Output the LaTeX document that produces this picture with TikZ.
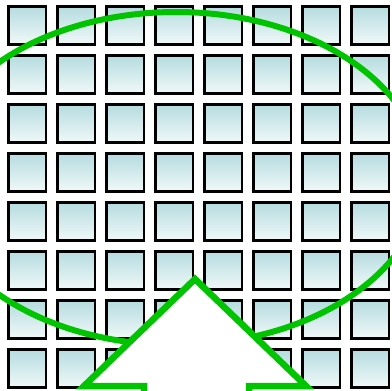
\documentclass[tikz,border=0pt]{standalone}
\usepackage{xcolor}
\definecolor{tealtop}{HTML}{B6DCE0}
\definecolor{tealbot}{HTML}{F0F8F8}
\definecolor{lime}{HTML}{00C400}
\usetikzlibrary{positioning}
\tikzset{
  cell/.style={draw=black,line width=2.6pt,minimum size=37.6pt,inner sep=0pt,
    top color=tealtop,bottom color=tealbot},
  ring/.style={draw=lime,line width=6pt},
  uparrow/.style={draw=lime,fill=white,line width=6.5pt,line join=miter},
}

\begin{document}
\begin{tikzpicture}[x=1pt,y=-1pt]
  \useasboundingbox (0,0) rectangle (392,391);
  \fill[white] (0,0) rectangle (392,391);
  \clip (0,0) rectangle (392,391);
  % grid of cells
  \foreach \i in {0,...,7}{
    \foreach \j in {0,...,7}{
      \node[cell] (c\i\j) at (27+49*\i,25.5+49*\j) {};
    }
  }
  % ellipse
  \coordinate (mid) at (176,178.5);
  \draw[ring] (mid) ellipse [x radius=247pt,y radius=166.5pt];
  % arrow
  \coordinate (tip) at (195,279);
  \coordinate (hl) at (84,386);
  \coordinate (hr) at (306,386);
  \path[uparrow] (144,400) -- (144,386) -- (hl) -- (tip) -- (hr) -- (249,386) -- (249,400);
\end{tikzpicture}
\end{document}
